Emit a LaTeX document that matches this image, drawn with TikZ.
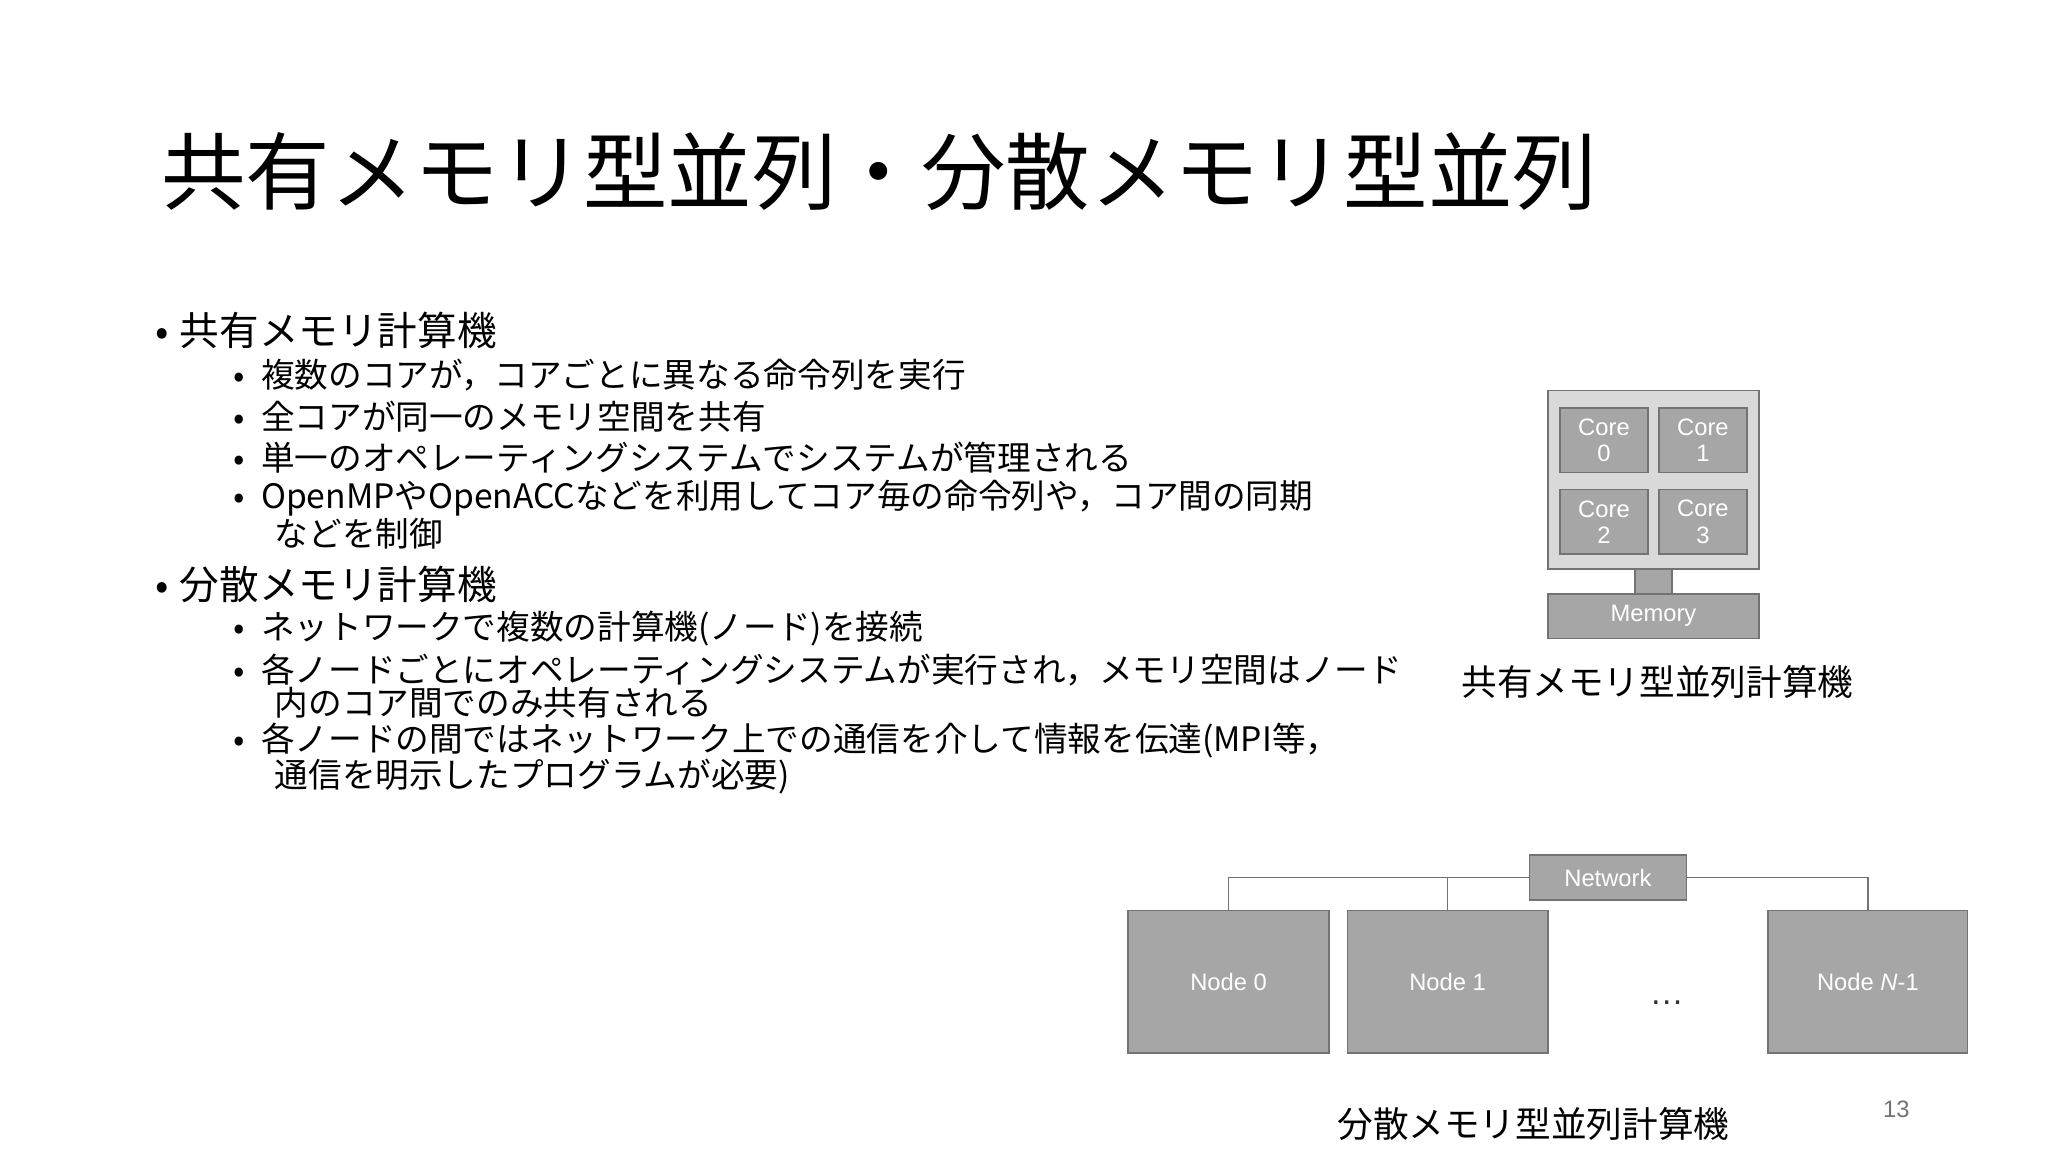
\documentclass[tikz,border=0pt]{standalone}
\usepackage{fontspec}
\setmainfont{Noto Sans CJK JP}
\newfontfamily\latinf{Liberation Sans}
\begin{document}
\begin{tikzpicture}[x=1pt,y=-1pt,
  box/.style={draw=black!55,line width=1.2pt,fill=black!35,text=white,inner sep=0pt,font=\latinf\fontsize{18}{20}\selectfont,align=center},
  lone/.style={anchor=west,inner sep=0pt,font=\fontsize{30}{32}\selectfont},
  ltwo/.style={anchor=west,inner sep=0pt,font=\fontsize{25.5}{22}\selectfont,align=left},
  wire/.style={draw=black!55,line width=1.2pt}]
\useasboundingbox[fill=white] (0,0) rectangle (1552,873);
\node[anchor=west,inner sep=0pt,font=\fontsize{64}{70}\selectfont] (title) at (122,130) {共有メモリ型並列・分散メモリ型並列};
% level 1 and 2 bullets
\foreach \y/\t [count=\i] in {250/共有メモリ計算機,443/分散メモリ計算機}{
  \node[lone] (b\i) at (118,\y) {•\hspace{8pt}\t};}
\node[ltwo] (s1) at (177,284) {•\hspace{12pt}複数のコアが，コアごとに異なる命令列を実行};
\node[ltwo] (s2) at (177,316) {•\hspace{12pt}全コアが同一のメモリ空間を共有};
\node[ltwo] (s3) at (177,347) {•\hspace{12pt}単一のオペレーティングシステムでシステムが管理される};
\node[ltwo] (s4) at (177,390) {•\hspace{12pt}OpenMPやOpenACCなどを利用してコア毎の命令列や，コア間の同期\\\hspace{31pt}などを制御};
\node[ltwo] (s5) at (177,476) {•\hspace{12pt}ネットワークで複数の計算機(ノード)を接続};
\node[ltwo] (s6) at (177,520) {•\hspace{12pt}各ノードごとにオペレーティングシステムが実行され，メモリ空間はノード\\\hspace{31pt}内のコア間でのみ共有される};
\node[ltwo] (s7) at (177,575) {•\hspace{12pt}各ノードの間ではネットワーク上での通信を介して情報を伝達(MPI等，\\\hspace{31pt}通信を明示したプログラムが必要)};
% shared memory diagram
\node[box,fill=black!15,minimum width=160pt,minimum height=135pt] (outer) at (1253,363.5) {};
\node[box,minimum width=67pt,minimum height=49pt] (c0) at (1215.5,333.5) {Core\\0};
\node[box,minimum width=67pt,minimum height=49pt] (c1) at (1290.5,333.5) {Core\\1};
\node[box,minimum width=67pt,minimum height=49pt] (c2) at (1215.5,395.5) {Core\\2};
\node[box,minimum width=67pt,minimum height=49pt] (c3) at (1290.5,395.5) {Core\\3};
\node[box,minimum width=28pt,minimum height=19pt] (bus) at (1253,440.5) {};
\node[box,minimum width=160pt,minimum height=34pt] (mem) at (1253,467) {Memory};
\node[inner sep=0pt,font=\fontsize{27}{30}\selectfont] (lab1) at (1256,517) {共有メモリ型並列計算機};
% distributed
\node[box,minimum width=119pt,minimum height=34pt] (net) at (1218.5,665) {Network};
\node[box,minimum width=152pt,minimum height=108pt] (n0) at (931,744) {Node 0};
\node[box,minimum width=152pt,minimum height=108pt] (n1) at (1097,744) {Node 1};
\node[box,minimum width=151pt,minimum height=108pt] (nN) at (1415.5,744) {Node \textit{N}-1};
\node[inner sep=0pt,font=\latinf\fontsize{26}{28}\selectfont,text=black!80] (dots) at (1263,760) {…};
\draw[wire] (net.west) -| (n0.north);
\draw[wire] (net.west) -| (n1.north);
\draw[wire] (net.east) -| (nN.north);
\node[inner sep=0pt,font=\fontsize{27}{30}\selectfont] (lab2) at (1162,852) {分散メモリ型並列計算機};
\node[inner sep=0pt,font=\latinf\fontsize{18}{20}\selectfont,text=black!55] (pg) at (1437,841) {13};
\end{tikzpicture}
\end{document}
